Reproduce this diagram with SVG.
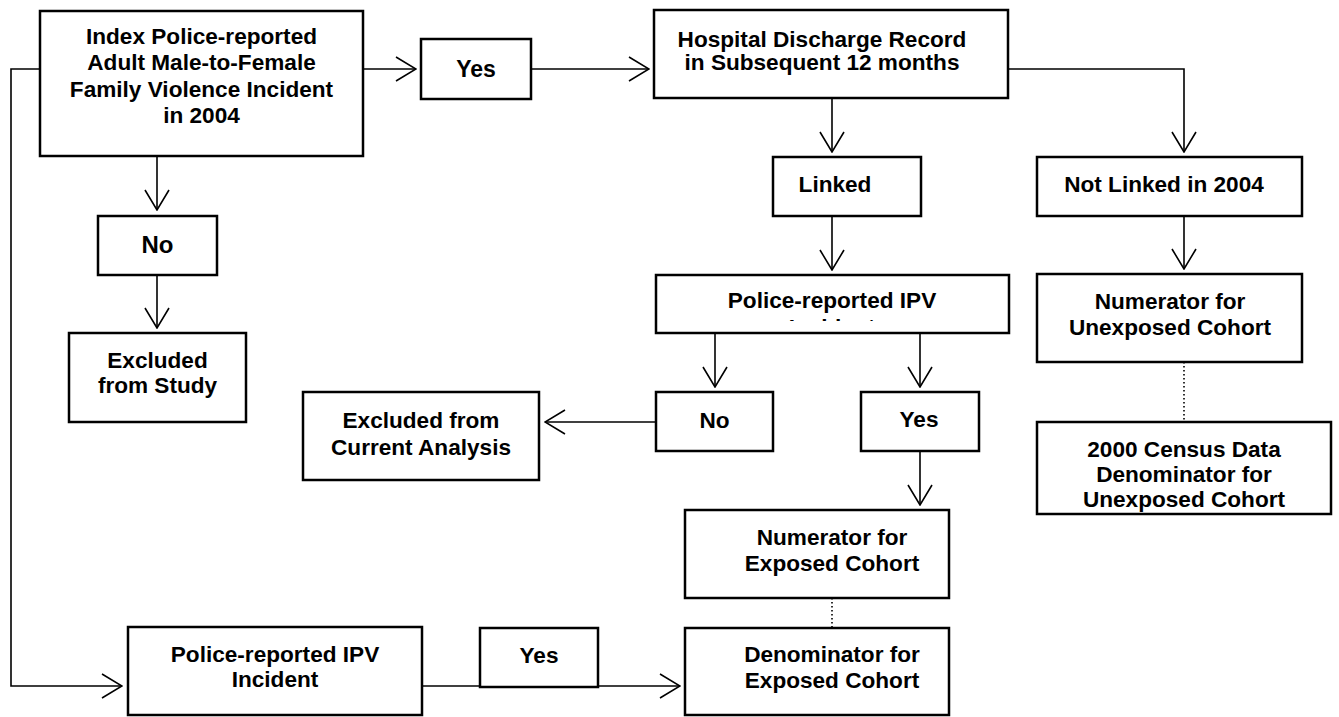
<svg xmlns="http://www.w3.org/2000/svg" width="1339" height="717" viewBox="0 0 1339 717">
<style>
.box{fill:#fff;stroke:#000;stroke-width:2.5}
.t{font-family:"Liberation Sans",Arial,sans-serif;font-weight:bold;font-size:22.6px;fill:#000;text-anchor:middle}
.c{fill:none;stroke:#000;stroke-width:1.6}
.d{fill:none;stroke:#000;stroke-width:1.6;stroke-dasharray:1.5 2.5}
</style>
<defs>
<marker id="ah" viewBox="-1 -1 22 26" refX="20" refY="12" markerWidth="22" markerHeight="26" markerUnits="userSpaceOnUse" orient="auto">
<path d="M0,0 L20,12 L0,24" fill="none" stroke="#000" stroke-width="1.6"/>
</marker>
<clipPath id="clipIPV"><rect x="656" y="275" width="353" height="46"/></clipPath>
</defs>
<rect width="1339" height="717" fill="#fff"/>
<g id="connectors">
<path class="c" d="M363,69 H416" marker-end="url(#ah)"/>
<path class="c" d="M531,69 H649" marker-end="url(#ah)"/>
<path class="c" d="M1008,69 H1184 V152" marker-end="url(#ah)"/>
<path class="c" d="M832,98 V152" marker-end="url(#ah)"/>
<path class="c" d="M832,216 V270" marker-end="url(#ah)"/>
<path class="c" d="M715,333 V387" marker-end="url(#ah)"/>
<path class="c" d="M920,333 V387" marker-end="url(#ah)"/>
<path class="c" d="M656,422 H545" marker-end="url(#ah)"/>
<path class="c" d="M920,451 V505" marker-end="url(#ah)"/>
<path class="c" d="M1184,216 V269" marker-end="url(#ah)"/>
<path class="d" d="M1184,362 V422"/>
<path class="d" d="M832,598 V628"/>
<path class="c" d="M157,156 V210" marker-end="url(#ah)"/>
<path class="c" d="M157,275 V328" marker-end="url(#ah)"/>
<path class="c" d="M40,69 H11 V686 H122" marker-end="url(#ah)"/>
<path class="c" d="M422,686 H680" marker-end="url(#ah)"/>
</g>
<g id="index">
<rect class="box" x="40" y="11" width="323" height="145"/>
<text class="t" x="201.5" y="44">Index Police-reported</text>
<text class="t" x="201.5" y="70.3">Adult Male-to-Female</text>
<text class="t" x="201.5" y="96.6">Family Violence Incident</text>
<text class="t" x="201.5" y="123">in 2004</text>
</g>
<g id="yes-top">
<rect class="box" x="421" y="39" width="110" height="60"/>
<text class="t" x="476" y="77" style="font-size:23px">Yes</text>
</g>
<g id="hospital">
<rect class="box" x="654" y="10" width="354" height="88"/>
<text class="t" x="822" y="47">Hospital Discharge Record</text>
<text class="t" x="822" y="70">in Subsequent 12 months</text>
</g>
<g id="linked">
<rect class="box" x="773" y="157" width="148" height="59"/>
<text class="t" x="835" y="192">Linked</text>
</g>
<g id="not-linked">
<rect class="box" x="1037" y="157" width="265" height="59"/>
<text class="t" x="1164" y="192">Not Linked in 2004</text>
</g>
<g id="police-ipv-mid">
<rect class="box" x="656" y="275" width="353" height="58"/>
<text class="t" x="832" y="308">Police-reported IPV</text>
<text class="t" x="832" y="335" clip-path="url(#clipIPV)">Incident</text>
</g>
<g id="no-mid">
<rect class="box" x="656" y="392" width="117" height="59"/>
<text class="t" x="714.5" y="428">No</text>
</g>
<g id="yes-mid">
<rect class="box" x="861" y="392" width="118" height="59"/>
<text class="t" x="919" y="427">Yes</text>
</g>
<g id="excluded-analysis">
<rect class="box" x="303" y="392" width="236" height="88"/>
<text class="t" x="421" y="428">Excluded from</text>
<text class="t" x="421" y="455">Current Analysis</text>
</g>
<g id="numerator-exposed">
<rect class="box" x="685" y="510" width="264" height="88"/>
<text class="t" x="832" y="545">Numerator for</text>
<text class="t" x="832" y="571">Exposed Cohort</text>
</g>
<g id="denominator-exposed">
<rect class="box" x="685" y="628" width="264" height="87"/>
<text class="t" x="832" y="662">Denominator for</text>
<text class="t" x="832" y="688">Exposed Cohort</text>
</g>
<g id="numerator-unexposed">
<rect class="box" x="1037" y="274" width="265" height="88"/>
<text class="t" x="1170" y="309">Numerator for</text>
<text class="t" x="1170" y="335">Unexposed Cohort</text>
</g>
<g id="census">
<rect class="box" x="1037" y="422" width="294" height="92"/>
<text class="t" x="1184" y="457">2000 Census Data</text>
<text class="t" x="1184" y="482">Denominator for</text>
<text class="t" x="1184" y="507">Unexposed Cohort</text>
</g>
<g id="no-left">
<rect class="box" x="98" y="216" width="119" height="59"/>
<text class="t" x="157.5" y="253" style="font-size:24px">No</text>
</g>
<g id="excluded-study">
<rect class="box" x="69" y="333" width="177" height="89"/>
<text class="t" x="157.5" y="368">Excluded</text>
<text class="t" x="157.5" y="393">from Study</text>
</g>
<g id="police-ipv-bottom">
<rect class="box" x="128" y="627" width="294" height="88"/>
<text class="t" x="275" y="662">Police-reported IPV</text>
<text class="t" x="275" y="687">Incident</text>
</g>
<g id="yes-bottom">
<rect class="box" x="480" y="628" width="118" height="59"/>
<text class="t" x="539" y="663">Yes</text>
</g>
</svg>
